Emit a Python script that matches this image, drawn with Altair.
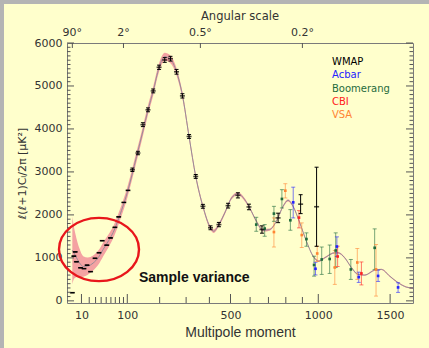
import altair as alt
import pandas as pd

# ---- best-fit model spectrum and its cosmic-variance band (half width) ----
theory_l = [2, 3, 4, 6, 8, 12, 18, 26, 35, 44, 55, 65, 80, 100, 126, 145, 161, 178, 198,
            218, 239, 262, 285, 312, 340, 371, 405, 420, 444, 472, 505, 537, 572, 598,
            634, 670, 707, 745, 784, 813, 843, 884, 925, 967, 1003, 1042, 1108, 1130,
            1175, 1222, 1267, 1315, 1386, 1435, 1497, 1560, 1624, 1675]
theory_dl = [1175, 1120, 1060, 960, 880, 800, 810, 880, 1010, 1200, 1400, 1590, 1970, 2520,
             3360, 3950, 4440, 4880, 5430, 5680, 5620, 5330, 4790, 3824, 2896, 2200, 1698,
             1619, 1775, 2046, 2394, 2494, 2355, 2162, 1852, 1643, 1659, 1852, 2200, 2339,
             2200, 1814, 1387, 1039, 923, 1002, 1118, 1118, 1002, 770, 615, 599, 715, 731,
             575, 422, 320, 297]
theory_cv = [790, 610, 520, 400, 330, 240, 200, 175, 165, 160, 150, 140, 130, 125, 120, 115,
             110, 105, 100, 95, 90, 85, 80, 70, 60, 50, 45, 40, 40, 40, 35, 35, 35, 30, 30,
             30, 25, 25, 25, 25, 25, 20, 20, 20, 20, 18, 18, 18, 18, 16, 16, 16, 15, 15, 15,
             15, 15, 15]

# ---- band powers: multipole, value, error ----
wmap_l = [2, 3, 4, 5, 9, 13, 17, 22, 29, 36, 42, 51, 59, 69, 78, 91, 102, 114, 130, 145,
          161, 178, 198, 218, 239, 262, 285, 312, 340, 371, 405, 444, 488, 537, 594, 664,
          755, 889, 989]
wmap_dl = [190, 1040, 1140, 910, 770, 750, 830, 680, 990, 1120, 1400, 1295, 1465, 1710,
           1955, 2290, 2570, 3050, 3440, 4100, 4445, 4885, 5435, 5605, 5635, 5330, 4770,
           3825, 2895, 2200, 1700, 1775, 2215, 2455, 2185, 1660, 1930, 2250, 2190]
wmap_err = [0, 0, 0, 0, 0, 0, 0, 0, 0, 0, 0, 0, 0, 0, 0, 0, 0, 40, 40, 45, 45, 45, 50, 55,
            55, 55, 50, 45, 45, 45, 45, 50, 55, 60, 65, 85, 110, 220, 920]

acbar_l = [844, 982, 1122, 1272, 1411, 1560]
acbar_dl = [2292, 747, 1264, 552, 580, 313]
acbar_lo = [1930, 603, 1032, 429, 452, 197]
acbar_hi = [2645, 898, 1489, 668, 715, 422]

boom_l = [633, 679, 731, 777, 827, 925, 973, 1022, 1074, 1114, 1217, 1386]
boom_dl = [1775, 1682, 2030, 2371, 1875, 1438, 835, 963, 974, 1172, 731, 1234]
boom_lo = [1619, 1503, 1851, 2162, 1643, 1271, 575, 615, 638, 777, 499, 731]
boom_hi = [1944, 1775, 2199, 2587, 2123, 1582, 1039, 1253, 1299, 1582, 963, 1675]

cbi_l = [879, 1127, 1291]
cbi_dl = [1937, 1032, 638]
cbi_lo = [1698, 800, 371]
cbi_hi = [2100, 1271, 905]

vsa_l = [731, 797, 896, 993, 1108, 1262, 1396]
vsa_dl = [1601, 2564, 1531, 1102, 777, 893, 731]
vsa_lo = [1253, 2394, 1241, 916, 383, 499, 111]
vsa_hi = [1930, 2726, 1814, 1271, 1172, 1218, 1311]

exp_names = ["WMAP", "Acbar", "Boomerang", "CBI", "VSA"]
exp_colors = ["#000000", "#2323ff", "#1f6b3c", "#ff2020", "#ff8533"]

# ---- axis ticks ----
x_major = [10, 100, 500, 1000, 1500]
x_minor = [20, 30, 40, 50, 60, 70, 80, 90, 200, 300, 400, 600, 700, 800, 900]
angle_l = [2, 90, 360, 900]
angle_labels = ["90°", "2°", "0.5°", "0.2°"]
y_major = [0, 1000, 2000, 3000, 4000, 5000, 6000]
y_minor = [v for v in range(100, 6000, 100) if v % 1000]

W, H = 346, 260
BG = "#ffffcc"
TICK = "#555555"

xscale = alt.Scale(type="pow", exponent=0.62, domain=[0, 1675], nice=False, zero=False)
yscale = alt.Scale(domain=[-50, 6000], nice=False, zero=False)
x_axis = alt.Axis(values=x_major, format="d", ticks=False, domain=False, grid=False,
                  labelPadding=6, labelFontSize=11, labelColor="#333333",
                  title="Multipole moment", titleFont="Liberation Sans", titleFontSize=14,
                  titleFontWeight="normal", titleColor="#333333", titlePadding=5)
y_axis = alt.Axis(values=y_major, format="d", ticks=False, domain=False, grid=False,
                  labelPadding=5, labelFontSize=11, labelColor="#333333",
                  title="ℓ(ℓ+1)Cₗ/2π [μK²]", titleFontSize=11, titleFontWeight="normal",
                  titleColor="#333333", titlePadding=7)


def X(field="l"):
    return alt.X(f"{field}:Q", scale=xscale, axis=x_axis)


def Y(field="D"):
    return alt.Y(f"{field}:Q", scale=yscale, axis=y_axis)


color = alt.Color("name:N", scale=alt.Scale(domain=exp_names, range=exp_colors), legend=None)

theory = pd.DataFrame({"l": theory_l, "D": theory_dl, "cv": theory_cv})
theory["lo"] = theory["D"] - theory["cv"]
theory["hi"] = theory["D"] + theory["cv"]

wmap = pd.DataFrame({"l": wmap_l, "D": wmap_dl, "err": wmap_err, "name": "WMAP"})
wmap["lo"] = wmap["D"] - wmap["err"]
wmap["hi"] = wmap["D"] + wmap["err"]

others = pd.concat([
    pd.DataFrame({"l": acbar_l, "D": acbar_dl, "lo": acbar_lo, "hi": acbar_hi, "name": "Acbar"}),
    pd.DataFrame({"l": boom_l, "D": boom_dl, "lo": boom_lo, "hi": boom_hi, "name": "Boomerang"}),
    pd.DataFrame({"l": cbi_l, "D": cbi_dl, "lo": cbi_lo, "hi": cbi_hi, "name": "CBI"}),
    pd.DataFrame({"l": vsa_l, "D": vsa_dl, "lo": vsa_lo, "hi": vsa_hi, "name": "VSA"}),
], ignore_index=True)

band = alt.Chart(theory).mark_area(color="#f4a2a2", interpolate="monotone").encode(
    x=X(), y=Y("lo"), y2="hi:Q")
model = alt.Chart(theory).mark_line(color="#978c98", strokeWidth=1, interpolate="monotone").encode(
    x=X(), y=Y())


def error_layers(df, opacity, dot):
    bars = alt.Chart(df).mark_rule(strokeWidth=1, opacity=opacity).encode(
        x=X(), y=Y("lo"), y2="hi:Q", color=color)
    caps = alt.Chart(df).transform_fold(["lo", "hi"], as_=["end", "v"]).mark_tick(
        orient="horizontal", size=4, thickness=1, opacity=opacity).encode(
        x=X(), y=Y("v"), color=color)
    return [bars, caps, dot.encode(x=X(), y=Y(), color=color)]


other_layers = error_layers(others, 0.6, alt.Chart(others).mark_square(size=7, opacity=1))
wmap_layers = error_layers(wmap, 1.0, alt.Chart(wmap).mark_tick(
    orient="horizontal", size=5, thickness=1.6))

# inward tick marks on all four sides
xt_major = pd.DataFrame({"l": x_major})
xt_minor = pd.DataFrame({"l": x_minor})
xt_top = pd.DataFrame({"l": angle_l, "label": angle_labels})
yt_major = pd.DataFrame({"D": y_major})
yt_minor = pd.DataFrame({"D": y_minor})

ticks = [
    alt.Chart(xt_major).mark_rule(color=TICK).encode(x=X(), y=alt.value(H), y2=alt.value(H - 9)),
    alt.Chart(xt_minor).mark_rule(color=TICK).encode(x=X(), y=alt.value(H), y2=alt.value(H - 6)),
    alt.Chart(xt_top).mark_rule(color=TICK).encode(x=X(), y=alt.value(0), y2=alt.value(5)),
    alt.Chart(yt_major).mark_rule(color=TICK).encode(y=Y(), x=alt.value(0), x2=alt.value(7)),
    alt.Chart(yt_minor).mark_rule(color=TICK).encode(y=Y(), x=alt.value(0), x2=alt.value(3.5)),
    alt.Chart(yt_major).mark_rule(color=TICK).encode(y=Y(), x=alt.value(W), x2=alt.value(W - 7)),
    alt.Chart(yt_minor).mark_rule(color=TICK).encode(y=Y(), x=alt.value(W), x2=alt.value(W - 3.5)),
]

top_labels = alt.Chart(xt_top).mark_text(
    font="DejaVu Sans", fontSize=11, color="#333333", baseline="middle").encode(
    x=X(), y=alt.value(-10), text="label:N")
top_title = alt.Chart(pd.DataFrame({"t": ["Angular scale"]})).mark_text(
    font="DejaVu Sans", fontSize=11.5, color="#333333", baseline="middle").encode(
    x=alt.value(W / 2), y=alt.value(-26), text="t:N")

legend_rows = [
    alt.Chart(pd.DataFrame({"t": [name]})).mark_text(
        font="DejaVu Sans", fontSize=10, color=col, align="left", baseline="middle").encode(
        x=alt.value(265), y=alt.value(19 + 13.25 * i), text="t:N")
    for i, (name, col) in enumerate(zip(exp_names, exp_colors))
]

# ring around the low multipoles dominated by sample variance
ring_path = ("M -1 0 C -1 -0.4363 -0.5523 -0.79 0 -0.79 C 0.5523 -0.79 1 -0.4363 1 0 "
             "C 1 0.4363 0.5523 0.79 0 0.79 C -0.5523 0.79 -1 0.4363 -1 0 Z")
ring = alt.Chart(pd.DataFrame({"l": [36], "D": [1195]})).mark_point(
    shape=ring_path, size=6400, filled=False, stroke="#e8161b", strokeWidth=2.4, opacity=1).encode(
    x=X(), y=Y())
note = alt.Chart(pd.DataFrame({"t": ["Sample variance"]})).mark_text(
    font="Liberation Sans", fontSize=14, fontWeight="bold", color="#111111",
    align="left", baseline="middle").encode(
    x=alt.value(72), y=alt.value(235), text="t:N")

# grey edges along the top and left of the page
edge = pd.DataFrame({"k": [0]})
edges = [
    alt.Chart(edge).mark_rect(color="#b4b4b4", clip=False).encode(
        x=alt.value(-70), x2=alt.value(W + 20), y=alt.value(-45), y2=alt.value(-39)),
    alt.Chart(edge).mark_rect(color="#b4b4b4", clip=False).encode(
        x=alt.value(-70), x2=alt.value(-63), y=alt.value(-45), y2=alt.value(H + 50)),
]

chart = alt.layer(
    band, model, *other_layers, *wmap_layers, *ticks, top_labels, top_title,
    *legend_rows, ring, note, *edges,
).properties(
    width=W, height=H,
    padding={"left": 67, "top": 43, "right": 16, "bottom": 45},
    autosize=alt.AutoSizeParams(type="none"),
    background=BG,
).configure_view(
    stroke="#7a7a7a", strokeWidth=1, fill=None,
).configure_axis(
    labelFont="DejaVu Sans", titleFont="DejaVu Sans",
)

chart.save("out.html", embed_options={"renderer": "svg", "actions": False})
